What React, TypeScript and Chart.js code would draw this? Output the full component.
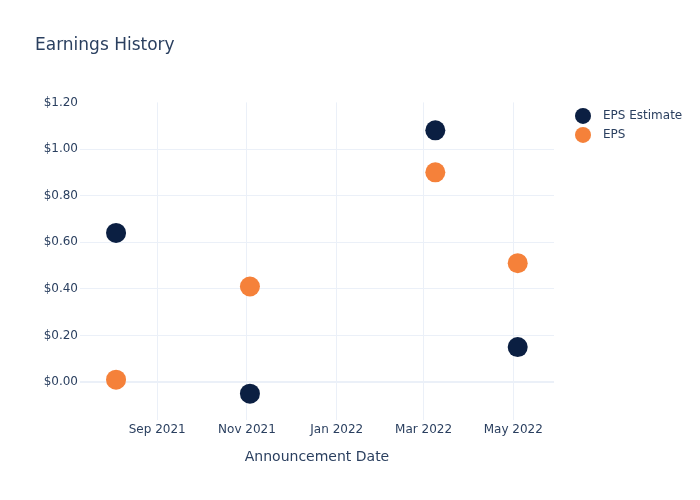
import React, { useEffect, useRef } from 'react';
import { Chart, registerables } from 'chart.js';

Chart.register(...registerables);

// ---- data ----
const announcementDates = ['2021-08-04', '2021-11-03', '2022-03-09', '2022-05-04'];
const epsEstimate = [0.64, -0.05, 1.08, 0.15];
const epsActual = [0.01, 0.41, 0.9, 0.51];
const xTickDates = ['2021-09-01', '2021-11-01', '2022-01-01', '2022-03-01', '2022-05-01'];
const xTickLabels = ['Sep 2021', 'Nov 2021', 'Jan 2022', 'Mar 2022', 'May 2022'];
const yTicks = [0, 0.2, 0.4, 0.6, 0.8, 1.0, 1.2];
const xRange = ['2021-07-10T12:00:00Z', '2022-05-28T16:00:00Z'];
const yRange = [-0.163, 1.2];
const seriesNames = ['EPS Estimate', 'EPS'];
const seriesColors = ['#0b1f42', '#f5813a'];

const TEXT = '#2a3f5f';
const GRID = '#EBF0F8';
const FONT = '"DejaVu Sans", "Open Sans", sans-serif';

const legendPlugin = {
  id: 'customLegend',
  afterDraw(chart: any) {
    const { ctx, chartArea } = chart;
    ctx.save();
    seriesNames.forEach((name, i) => {
      const cx = chartArea.right + 29;
      const cy = chartArea.top + 13.5 + i * 19;
      ctx.beginPath();
      ctx.arc(cx, cy, 8, 0, Math.PI * 2);
      ctx.fillStyle = seriesColors[i];
      ctx.fill();
      ctx.fillStyle = TEXT;
      ctx.font = `12px ${FONT}`;
      ctx.textBaseline = 'middle';
      ctx.textAlign = 'left';
      ctx.fillText(name, cx + 20, cy);
    });
    ctx.restore();
  },
};

export default function App() {
  const canvasRef = useRef<HTMLCanvasElement | null>(null);

  useEffect(() => {
    document.body.style.margin = '0';
    const tickMs = xTickDates.map((d) => Date.parse(d));
    const xs = announcementDates.map((d) => Date.parse(d));
    const chart = new Chart(canvasRef.current as HTMLCanvasElement, {
      type: 'scatter',
      data: {
        datasets: [
          {
            label: seriesNames[0],
            data: xs.map((x, i) => ({ x, y: epsEstimate[i] })),
            backgroundColor: seriesColors[0],
            borderWidth: 0,
            pointRadius: 10,
            pointHoverRadius: 10,
          },
          {
            label: seriesNames[1],
            data: xs.map((x, i) => ({ x, y: epsActual[i] })),
            backgroundColor: seriesColors[1],
            borderWidth: 0,
            pointRadius: 10,
            pointHoverRadius: 10,
          },
        ],
      },
      options: {
        animation: false,
        responsive: false,
        devicePixelRatio: 1,
        layout: { padding: { left: 35, right: 146, top: 0, bottom: 0 } },
        plugins: {
          legend: { display: false },
          tooltip: { enabled: false },
          title: {
            display: true,
            text: 'Earnings History',
            align: 'start',
            color: TEXT,
            font: { family: FONT, size: 17, weight: 'normal' },
            padding: { top: 35, bottom: 47 },
          },
        },
        scales: {
          x: {
            type: 'linear',
            min: Date.parse(xRange[0]),
            max: Date.parse(xRange[1]),
            afterBuildTicks: (scale: any) => {
              scale.ticks = tickMs.map((v) => ({ value: v }));
            },
            afterFit: (scale: any) => {
              scale.height = 80;
            },
            ticks: {
              autoSkip: false,
              maxRotation: 0,
              padding: 3,
              color: TEXT,
              font: { family: FONT, size: 12 },
              callback: (value: any) => {
                const i = tickMs.indexOf(Number(value));
                return i >= 0 ? xTickLabels[i] : '';
              },
            },
            grid: { color: GRID, lineWidth: 1, drawTicks: false },
            border: { display: false },
            title: {
              display: true,
              text: 'Announcement Date',
              color: TEXT,
              font: { family: FONT, size: 14 },
              padding: { top: 4, bottom: 34 },
            },
          },
          y: {
            type: 'linear',
            min: yRange[0],
            max: yRange[1],
            afterBuildTicks: (scale: any) => {
              scale.ticks = yTicks.map((v) => ({ value: v }));
            },
            afterFit: (scale: any) => {
              scale.width = 45;
            },
            ticks: {
              padding: 2,
              color: TEXT,
              font: { family: FONT, size: 12 },
              callback: (value: any) => '$' + Number(value).toFixed(2),
            },
            grid: {
              drawTicks: false,
              color: (c: any) => (c.tick && Math.abs(c.tick.value - 1.2) < 1e-9 ? 'rgba(0,0,0,0)' : GRID),
              lineWidth: (c: any) => (c.tick && Math.abs(c.tick.value) < 1e-9 ? 2 : 1),
            },
            border: { display: false },
          },
        },
      },
      plugins: [legendPlugin],
    } as any);
    return () => chart.destroy();
  }, []);

  return (
    <div style={{ width: 700, height: 500 }}>
      <canvas ref={canvasRef} width={700} height={500} />
    </div>
  );
}
